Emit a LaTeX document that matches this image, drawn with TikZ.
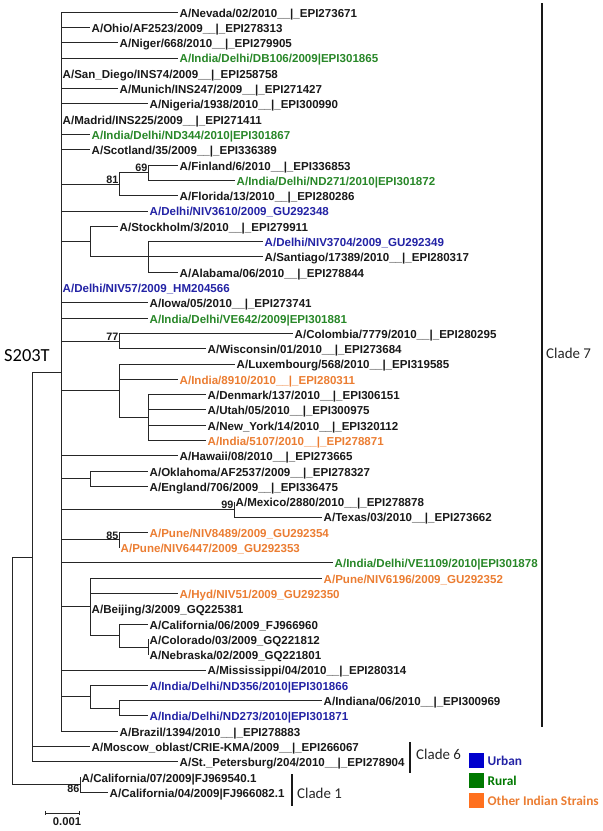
\documentclass[tikz,border=0pt]{standalone}
\usepackage{fontspec}
\setmainfont{Liberation Sans}
\newfontfamily\calib{Carlito}
\definecolor{urbT}{RGB}{35,35,165}
\definecolor{rurT}{RGB}{40,135,40}
\definecolor{othT}{RGB}{235,125,50}
\definecolor{urbS}{RGB}{0,0,205}
\definecolor{rurS}{RGB}{0,120,0}
\definecolor{othS}{RGB}{255,112,30}
\tikzset{
 br/.style={line width=0.8bp, black!85},
 lab/.style={anchor=base west, inner sep=0pt, inner xsep=1.5bp, yshift=-5bp, font=\fontsize{11.6}{12}\selectfont\bfseries, text=black!90},
 blk/.style={}, urb/.style={text=urbT}, rur/.style={text=rurT}, oth/.style={text=othT},
 boot/.style={inner sep=0.5bp, font=\fontsize{10.8}{11}\selectfont\bfseries, text=black!90},
 cbar/.style={line width=1.6bp, black!90},
 clab/.style={anchor=west, inner sep=0pt, font=\calib\fontsize{15}{16}\selectfont, text=black!85},
 legsq/.style={draw=none, minimum size=15bp, inner sep=0pt},
 legtx/.style={anchor=west, inner sep=0pt, font=\calib\bfseries\fontsize{13.4}{14}\selectfont},
}
\newcommand\leaf[5]{\coordinate (#1) at (#3,{12+15.3*#2}); \node[lab,#4] (#1L) at (#1) {#5};}
\begin{document}
\begin{tikzpicture}[x=1bp,y=-1bp]
\useasboundingbox (0,0) rectangle (603,831);
\leaf{t0}{0}{178}{blk}{A/Nevada/02/2010\_\_|\_EPI273671}
\leaf{t1}{1}{90}{blk}{A/Ohio/AF2523/2009\_\_|\_EPI278313}
\leaf{t2}{2}{118}{blk}{A/Niger/668/2010\_\_|\_EPI279905}
\leaf{t3}{3}{178}{rur}{A/India/Delhi/DB106/2009|EPI301865}
\leaf{t4}{4}{61}{blk}{A/San\_Diego/INS74/2009\_\_|\_EPI258758}
\leaf{t5}{5}{118}{blk}{A/Munich/INS247/2009\_\_|\_EPI271427}
\leaf{t6}{6}{148}{blk}{A/Nigeria/1938/2010\_\_|\_EPI300990}
\leaf{t7}{7}{61}{blk}{A/Madrid/INS225/2009\_\_|\_EPI271411}
\leaf{t8}{8}{90}{rur}{A/India/Delhi/ND344/2010|EPI301867}
\leaf{t9}{9}{90}{blk}{A/Scotland/35/2009\_\_|\_EPI336389}
\leaf{t10}{10}{178}{blk}{A/Finland/6/2010\_\_|\_EPI336853}
\leaf{t11}{11}{235}{rur}{A/India/Delhi/ND271/2010|EPI301872}
\leaf{t12}{12}{178}{blk}{A/Florida/13/2010\_\_|\_EPI280286}
\leaf{t13}{13}{148}{urb}{A/Delhi/NIV3610/2009\_GU292348}
\leaf{t14}{14}{118}{blk}{A/Stockholm/3/2010\_\_|\_EPI279911}
\leaf{t15}{15}{263}{urb}{A/Delhi/NIV3704/2009\_GU292349}
\leaf{t16}{16}{263}{blk}{A/Santiago/17389/2010\_\_|\_EPI280317}
\leaf{t17}{17}{178}{blk}{A/Alabama/06/2010\_\_|\_EPI278844}
\leaf{t18}{18}{61}{urb}{A/Delhi/NIV57/2009\_HM204566}
\leaf{t19}{19}{148}{blk}{A/Iowa/05/2010\_\_|\_EPI273741}
\leaf{t20}{20}{148}{rur}{A/India/Delhi/VE642/2009|EPI301881}
\leaf{t21}{21}{293}{blk}{A/Colombia/7779/2010\_\_|\_EPI280295}
\leaf{t22}{22}{206}{blk}{A/Wisconsin/01/2010\_\_|\_EPI273684}
\leaf{t23}{23}{235}{blk}{A/Luxembourg/568/2010\_\_|\_EPI319585}
\leaf{t24}{24}{178}{oth}{A/India/8910/2010\_\_|\_EPI280311}
\leaf{t25}{25}{206}{blk}{A/Denmark/137/2010\_\_|\_EPI306151}
\leaf{t26}{26}{206}{blk}{A/Utah/05/2010\_\_|\_EPI300975}
\leaf{t27}{27}{206}{blk}{A/New\_York/14/2010\_\_|\_EPI320112}
\leaf{t28}{28}{206}{oth}{A/India/5107/2010\_\_|\_EPI278871}
\leaf{t29}{29}{178}{blk}{A/Hawaii/08/2010\_\_|\_EPI273665}
\leaf{t30}{30}{148}{blk}{A/Oklahoma/AF2537/2009\_\_|\_EPI278327}
\leaf{t31}{31}{148}{blk}{A/England/706/2009\_\_|\_EPI336475}
\leaf{t32}{32}{234}{blk}{A/Mexico/2880/2010\_\_|\_EPI278878}
\leaf{t33}{33}{322}{blk}{A/Texas/03/2010\_\_|\_EPI273662}
\leaf{t34}{34}{148}{oth}{A/Pune/NIV8489/2009\_GU292354}
\leaf{t35}{35}{119}{oth}{A/Pune/NIV6447/2009\_GU292353}
\leaf{t36}{36}{333}{rur}{A/India/Delhi/VE1109/2010|EPI301878}
\leaf{t37}{37}{322}{oth}{A/Pune/NIV6196/2009\_GU292352}
\leaf{t38}{38}{178}{oth}{A/Hyd/NIV51/2009\_GU292350}
\leaf{t39}{39}{90}{blk}{A/Beijing/3/2009\_GQ225381}
\leaf{t40}{40}{148}{blk}{A/California/06/2009\_FJ966960}
\leaf{t41}{41}{148}{blk}{A/Colorado/03/2009\_GQ221812}
\leaf{t42}{42}{148}{blk}{A/Nebraska/02/2009\_GQ221801}
\leaf{t43}{43}{206}{blk}{A/Mississippi/04/2010\_\_|\_EPI280314}
\leaf{t44}{44}{148}{urb}{A/India/Delhi/ND356/2010|EPI301866}
\leaf{t45}{45}{322}{blk}{A/Indiana/06/2010\_\_|\_EPI300969}
\leaf{t46}{46}{148}{urb}{A/India/Delhi/ND273/2010|EPI301871}
\leaf{t47}{47}{118}{blk}{A/Brazil/1394/2010\_\_|\_EPI278883}
\leaf{t48}{48}{90}{blk}{A/Moscow\_oblast/CRIE-KMA/2009\_\_|\_EPI266067}
\leaf{t49}{49}{178}{blk}{A/St.\_Petersburg/204/2010\_\_|\_EPI278904}
\leaf{t50}{50}{80}{blk}{A/California/07/2009|FJ969540.1}
\leaf{t51}{51}{108}{blk}{A/California/04/2009|FJ966082.1}
% internal nodes
\coordinate (root) at (12,557);
\coordinate (n6) at (32,557);
\coordinate (n7) at (61,372);
\coordinate (n1) at (80,784.65);
\coordinate (n69) at (148,172.65);
\coordinate (n81) at (119,184.1);
\coordinate (nA) at (148,256.8);
\coordinate (nB) at (90,241.5);
\coordinate (n77) at (119,340.95);
\coordinate (nD) at (148,417.45);
\coordinate (nL) at (119,390.7);
\coordinate (nO) at (90,478.65);
\coordinate (n99) at (234,509.25);
\coordinate (n85) at (119,539.85);
\coordinate (nCN) at (148,646.95);
\coordinate (nC) at (119,635.5);
\coordinate (nP) at (90,606.8);
\coordinate (nI) at (119,708.15);
\coordinate (nN) at (90,696.7);
% branches
\foreach \c in {n6,n1} \draw[br] (root) |- (\c);
\foreach \c in {n7,t48,t49} \draw[br] (n6) |- (\c);
\foreach \c in {t0,t1,t2,t3,t4,t5,t6,t7,t8,t9,n81,t13,nB,t18,t19,t20,n77,nL,t29,nO,n99,n85,t36,nP,t43,nN,t47} \draw[br] (n7) |- (\c);
\foreach \c in {n69,t12} \draw[br] (n81) |- (\c);
\foreach \c in {t10,t11} \draw[br] (n69) |- (\c);
\foreach \c in {t14,nA} \draw[br] (nB) |- (\c);
\foreach \c in {t15,t16,t17} \draw[br] (nA) |- (\c);
\foreach \c in {t21,t22} \draw[br] (n77) |- (\c);
\foreach \c in {t23,t24,nD} \draw[br] (nL) |- (\c);
\foreach \c in {t25,t26,t27,t28} \draw[br] (nD) |- (\c);
\foreach \c in {t30,t31} \draw[br] (nO) |- (\c);
\foreach \c in {t32,t33} \draw[br] (n99) |- (\c);
\foreach \c in {t34,t35} \draw[br] (n85) |- (\c);
\foreach \c in {t37,t38,t39,nC} \draw[br] (nP) |- (\c);
\foreach \c in {t40,nCN} \draw[br] (nC) |- (\c);
\foreach \c in {t41,t42} \draw[br] (nCN) |- (\c);
\foreach \c in {t44,nI} \draw[br] (nN) |- (\c);
\foreach \c in {t45,t46} \draw[br] (nI) |- (\c);
\foreach \c in {t50,t51} \draw[br] (n1) |- (\c);
% bootstrap values
\node[boot,anchor=south east] (b81) at (n81) {81};
\node[boot,anchor=south east] (b69) at (n69) {69};
\node[boot,anchor=south east] (b77) at (n77) {77};
\node[boot,anchor=south east] (b99) at (n99) {99};
\node[boot,anchor=south east] (b85) at (n85) {85};
\node[boot,anchor=north east] (b86) at (n1) {86};
% S203T
\node[anchor=west, inner sep=0pt, font=\calib\fontsize{18.5}{19}\selectfont] (s203) at (4,355.5) {S203T};
% clade bars
\coordinate (c7a) at (542,3); \coordinate (c7b) at (542,727);
\draw[cbar] (c7a) -- (c7b);
\node[clab] (c7) at (546,353) {Clade 7};
\coordinate (c6a) at (410,742); \coordinate (c6b) at (410,773);
\draw[cbar] (c6a) -- (c6b);
\node[clab] (c6) at (416,754) {Clade 6};
\coordinate (c1a) at (292,774); \coordinate (c1b) at (292,806);
\draw[cbar] (c1a) -- (c1b);
\node[clab] (c1) at (297,793) {Clade 1};
% scale bar
\coordinate (sb1) at (45,813); \coordinate (sb2) at (79,813);
\draw[br] (sb1) -- (sb2);
\draw[br] ([yshift=2.2bp]sb1) -- ([yshift=-2.2bp]sb1);
\draw[br] ([yshift=2.2bp]sb2) -- ([yshift=-2.2bp]sb2);
\node[boot,anchor=north,font=\fontsize{11.3}{12}\selectfont\bfseries] (sbl) at (67,817) {0.001};
% legend
\node[legsq,fill=urbS] (lu) at (476,760.8) {};
\node[legtx,text=urbT] (lut) at (487.5,760.5) {Urban};
\node[legsq,fill=rurS] (lr) at (476,780.5) {};
\node[legtx,text=rurS] (lrt) at (487.5,780.5) {Rural};
\node[legsq,fill=othS] (lo) at (476,800.5) {};
\node[legtx,text=othT] (lot) at (487.5,800.5) {Other Indian Strains};
\end{tikzpicture}
\end{document}
